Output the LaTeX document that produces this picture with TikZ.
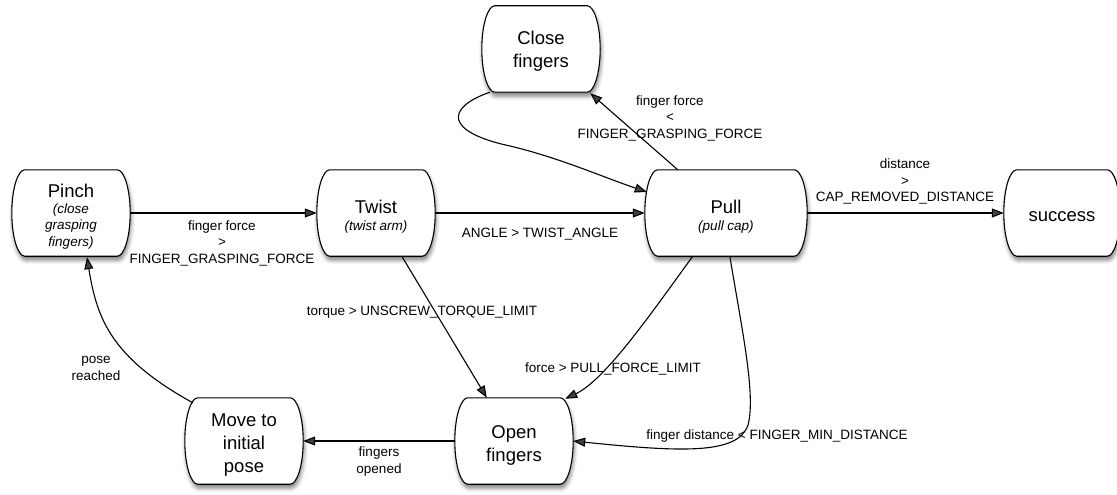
\documentclass[tikz,border=0pt]{standalone}
\usepackage{fontspec}
\setmainfont{Liberation Sans}
\usetikzlibrary{calc,arrows.meta,shadows.blur}
\newcommand\pillbox[1]{%
  \path[pill] ($(#1.north west)+(13,0)$) -- ($(#1.north east)+(-13,0)$)
   .. controls ($(#1.north east)+(-6,0)$) and ($(#1.east)+(0,-24)$) .. (#1.east)
   .. controls ($(#1.east)+(0,24)$) and ($(#1.south east)+(-6,0)$) .. ($(#1.south east)+(-13,0)$)
   -- ($(#1.south west)+(13,0)$)
   .. controls ($(#1.south west)+(6,0)$) and ($(#1.west)+(0,24)$) .. (#1.west)
   .. controls ($(#1.west)+(0,-24)$) and ($(#1.north west)+(6,0)$) .. cycle;}
\begin{document}
\begin{tikzpicture}[x=1pt,y=-1pt,
  box/.style={minimum width=118pt,minimum height=86pt,inner sep=0pt},
  pill/.style={draw=black,line width=1.1pt,fill=white,
    blur shadow={shadow xshift=1pt,shadow yshift=-4pt,shadow blur radius=4pt,shadow opacity=50}},
  ttl/.style={anchor=base,align=center,inner sep=0pt,font=\fontsize{18.5}{23}\selectfont},
  sub/.style={anchor=base,align=center,inner sep=0pt,font=\fontsize{13.5}{16.3}\selectfont\itshape},
  lbl/.style={anchor=base,align=center,inner sep=0pt,font=\fontsize{13.5}{16.5}\selectfont},
  conn/.style={line width=1.1pt,-{Triangle[length=12pt,width=9pt]}}]
\useasboundingbox (0,0) rectangle (1117,495);
% state boxes
\node[box] (pinch) at (71,213) {};
\node[box] (twist) at (376,213) {};
\node[box,minimum width=162pt] (pull) at (726,213) {};
\node[box,minimum width=116pt] (success) at (1062,213) {};
\node[box] (close) at (541,49) {};
\node[box] (move) at (244,441) {};
\node[box] (open) at (514,441) {};
\pillbox{pinch}
\pillbox{twist}
\pillbox{pull}
\pillbox{success}
\pillbox{close}
\pillbox{move}
\pillbox{open}
% state texts (anchor = baseline of the last line)
\node[ttl] (pinch-t) at (71,197) {Pinch};
\node[sub] (pinch-s) at (71,246) {(close\\grasping\\fingers)};
\node[ttl] (twist-t) at (376,213) {Twist};
\node[sub] (twist-s) at (376,230) {(twist arm)};
\node[ttl] (pull-t) at (726,213) {Pull};
\node[sub] (pull-s) at (726,230) {(pull cap)};
\node[ttl] (success-t) at (1062,221) {success};
\node[ttl] (close-t) at (541,68) {Close\\fingers};
\node[ttl] (move-t) at (244,472) {Move to\\initial\\pose};
\node[ttl] (open-t) at (514,461) {Open\\fingers};
% connectors
\draw[conn] (pinch.east) -- (twist.west);
\draw[conn] (twist.east) -- (pull.west);
\draw[conn] (pull.east) -- (success.west);
\draw[conn] ($(pull.north west)+(33,0)$) -- ($(close.south east)+(-10,1)$);
\draw[conn] ($(close.south west)+(8,0)$) .. controls (445,108) and (445,132) .. (510,146)
   .. controls (560,158) and (600,176) .. ($(pull.west)+(2,-21)$);
\draw[conn] ($(twist.south west)+(85,0)$) -- ($(open.north west)+(32,0)$);
\draw[conn] ($(pull.south west)+(48,0)$) .. controls (650,315) and (605,380) .. ($(open.north east)+(-8,1)$);
\draw[conn] ($(pull.south west)+(85,0)$) .. controls (742,330) and (756,395) .. (748,425)
   .. controls (738,455) and (680,452) .. (open.east);
\draw[conn] (open.west) -- (move.east);
\draw[conn] ($(move.north west)+(8,5)$) .. controls (112,358) and (97,320) .. ($(pinch.south)+(16,1)$);
% labels (anchor = baseline of the last line)
\node[lbl] (l1) at (222,263) {finger force\\>\\FINGER\_GRASPING\_FORCE};
\node[lbl] (l2) at (540,237.3) {ANGLE > TWIST\_ANGLE};
\node[lbl] (l3) at (905,201.7) {distance\\>\\CAP\_REMOVED\_DISTANCE};
\node[lbl] (l4) at (670,138.3) {finger force\\<\\FINGER\_GRASPING\_FORCE};
\node[lbl] (l5) at (422,315.7) {torque > UNSCREW\_TORQUE\_LIMIT};
\node[lbl] (l6) at (613,372.7) {force > PULL\_FORCE\_LIMIT};
\node[lbl] (l7) at (777,439.3) {finger distance < FINGER\_MIN\_DISTANCE};
\node[lbl] (l8) at (379,473) {fingers\\opened};
\node[lbl] (l9) at (96,380) {pose\\reached};
\end{tikzpicture}
\end{document}
